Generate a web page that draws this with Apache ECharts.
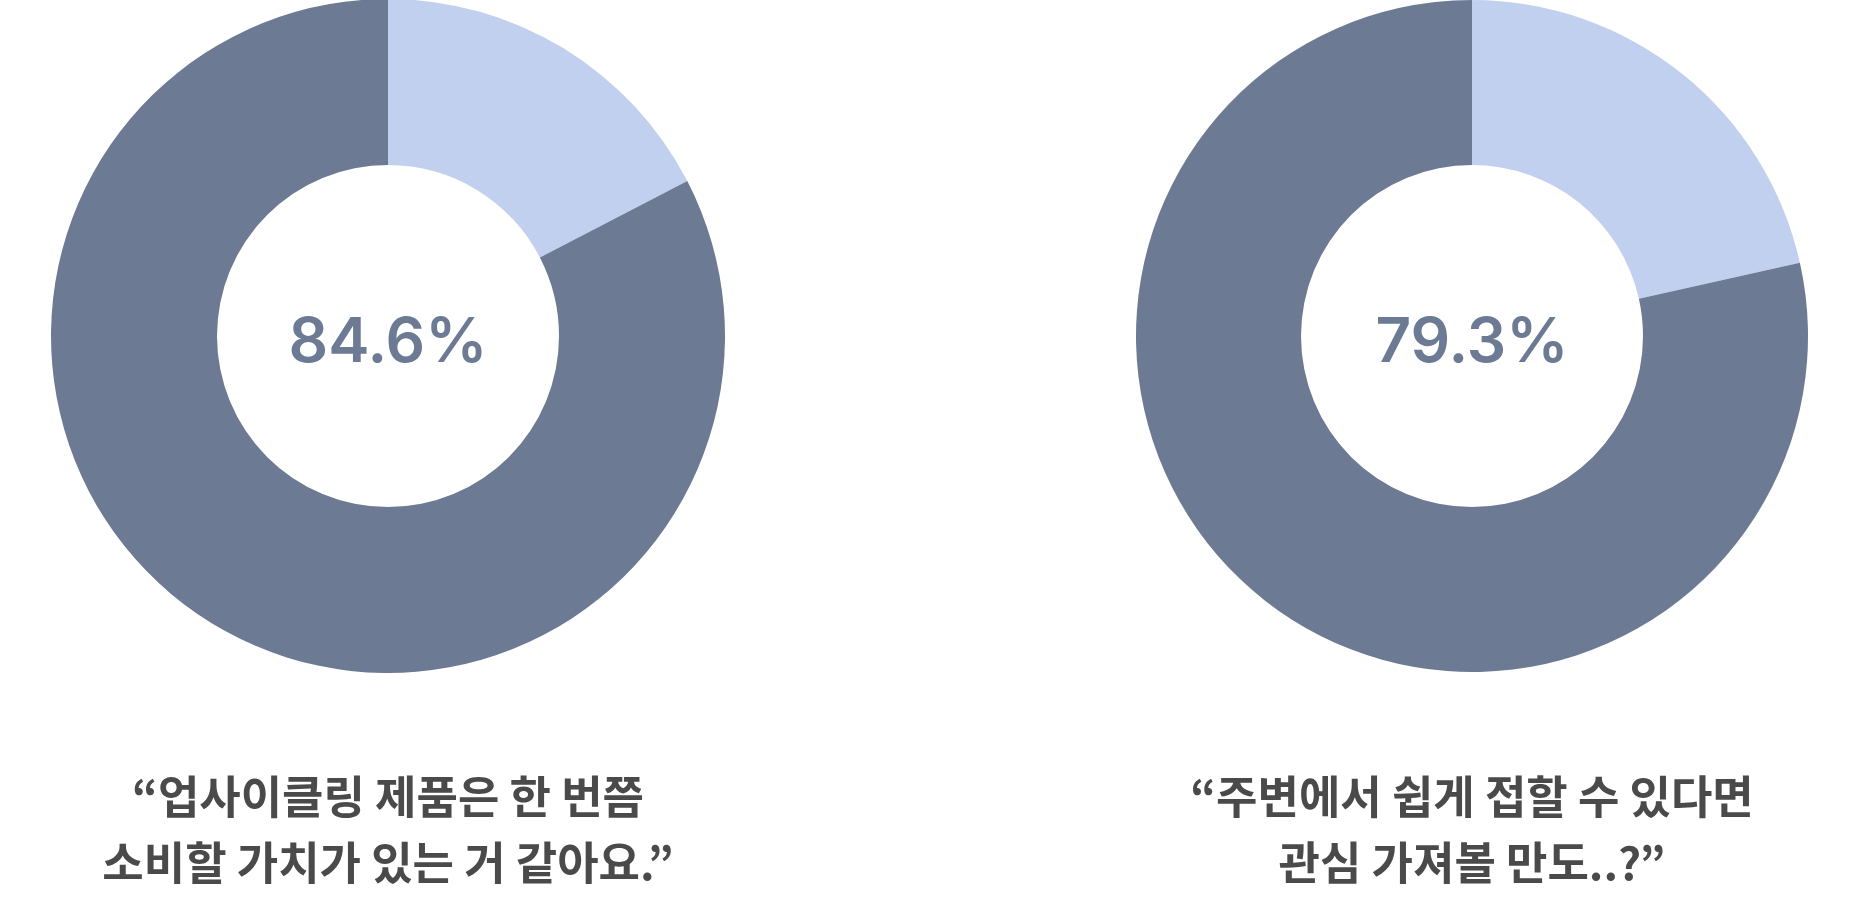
<!DOCTYPE html>
<html>
<head>
<meta charset="utf-8">
<script src="https://cdn.jsdelivr.net/npm/echarts@6/dist/echarts.min.js"></script>
<style>
html,body{margin:0;padding:0;background:#fff;}
#chart{width:1862px;height:904px;}
</style>
</head>
<body>
<div id="chart"></div>
<script>
// Data
const sliceNames = ['기타', '응답'];
const leftValues = [17.4, 82.6];
const rightValues = [21.5, 78.5];
const percentLabels = ['84.6%', '79.3%'];
const quotes = [
  '\u201C업사이클링 제품은 한 번쯤\n소비할 가치가 있는 거 같아요.\u201D',
  '\u201C주변에서 쉽게 접할 수 있다면\n관심 가져볼 만도..?\u201D'
];

const colors = ['#C2D0EF', '#6C7A94'];
const centers = [[388, 336], [1472, 336]];
const chart = echarts.init(document.getElementById('chart'));

function pieSeries(values, center, radius) {
  return {
    type: 'pie',
    center: center,
    radius: radius,
    startAngle: 90,
    clockwise: true,
    silent: true,
    label: { show: false },
    labelLine: { show: false },
    itemStyle: { borderWidth: 0 },
    data: values.map((v, i) => ({ name: sliceNames[i], value: v, itemStyle: { color: colors[i] } }))
  };
}

function pctText(i) {
  return {
    type: 'text', x: centers[i][0], y: centers[i][1] + 7,
    style: {
      text: percentLabels[i], textAlign: 'center', textVerticalAlign: 'middle',
      fill: '#6C7A94', fontSize: 62, fontWeight: 600,
      fontFamily: 'Inter, sans-serif'
    }
  };
}
function quoteText(i) {
  return {
    type: 'text', x: centers[i][0], y: 830,
    style: {
      text: quotes[i], textAlign: 'center', textVerticalAlign: 'middle',
      fill: '#4A4A4A', fontSize: 45, fontWeight: 'bold', lineHeight: 66,
      fontFamily: 'Noto Sans CJK KR, sans-serif'
    }
  };
}

chart.setOption({
  animation: false,
  backgroundColor: '#ffffff',
  series: [
    pieSeries(leftValues, centers[0], [171, 337]),
    pieSeries(rightValues, centers[1], [171, 336])
  ],
  graphic: [pctText(0), pctText(1), quoteText(0), quoteText(1)]
});
</script>
</body>
</html>
